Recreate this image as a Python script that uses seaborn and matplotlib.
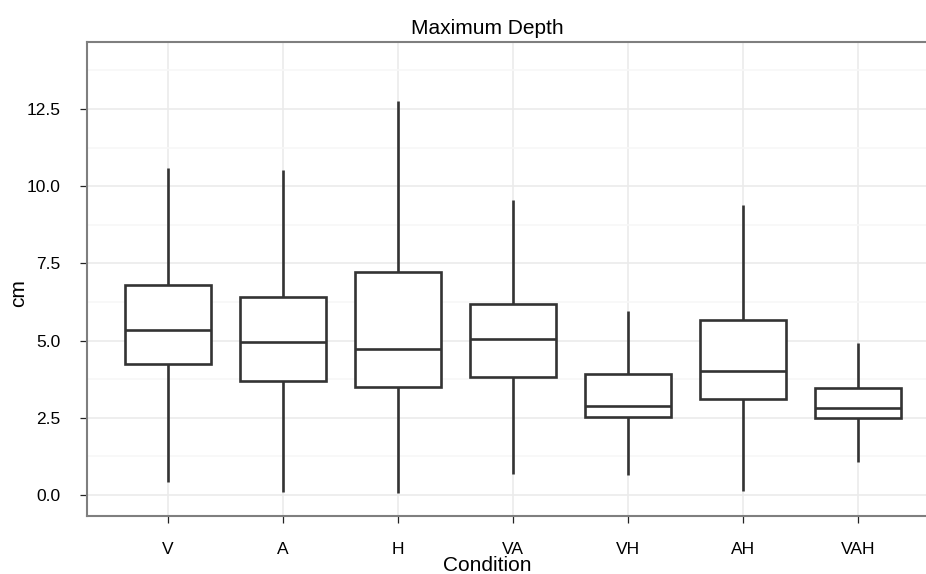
import matplotlib
matplotlib.use("Agg")
import matplotlib.pyplot as plt
import seaborn as sns
import pandas as pd
from matplotlib.ticker import MultipleLocator

conditions = ["V", "A", "H", "VA", "VH", "AH", "VAH"]
whisker_low = [0.42, 0.10, 0.07, 0.68, 0.65, 0.13, 1.07]
q1 = [4.23, 3.69, 3.51, 3.83, 2.54, 3.11, 2.49]
median = [5.33, 4.94, 4.74, 5.06, 2.87, 4.02, 2.81]
q3 = [6.80, 6.42, 7.23, 6.18, 3.91, 5.67, 3.47]
whisker_high = [10.59, 10.52, 12.77, 9.55, 5.97, 9.39, 4.93]

# five summary values per condition -> quartiles land exactly on q1/median/q3
rows = []
for i, c in enumerate(conditions):
    for v in (whisker_low[i], q1[i], median[i], q3[i], whisker_high[i]):
        rows.append({"Condition": c, "cm": v})
df = pd.DataFrame(rows)

sns.set_theme(style="white")
plt.rcParams["font.family"] = ["Liberation Sans", "DejaVu Sans"]

fig = plt.figure(figsize=(9.26, 5.74), dpi=100)
ax = fig.add_axes([0.094, 0.101, 0.906, 0.826])

line_kw = dict(color="#333333", linewidth=1.9)
sns.boxplot(data=df, x="Condition", y="cm", order=conditions, whis=float("inf"),
            width=0.75, color="white", linecolor="#333333", linewidth=1.9,
            boxprops=dict(facecolor="white", edgecolor="#333333", linewidth=1.9),
            medianprops=line_kw, whiskerprops=line_kw, capprops=dict(linewidth=0),
            ax=ax, zorder=3)

ax.set_xlim(-0.704, 6.59)
ax.set_ylim(-0.68, 14.67)
ax.yaxis.set_minor_locator(MultipleLocator(1.25))
ax.set_yticks([0, 2.5, 5, 7.5, 10, 12.5])
ax.set_yticklabels(["0.0", "2.5", "5.0", "7.5", "10.0", "12.5"])

ax.grid(True, which="major", axis="both", color="#ebebeb", linewidth=1.2, zorder=0)
ax.grid(True, which="minor", axis="y", color="#f7f7f7", linewidth=1.2, zorder=0)
ax.set_axisbelow(True)

for side in ["left", "bottom", "top"]:
    ax.spines[side].set_visible(True)
    ax.spines[side].set_color("#7f7f7f")
    ax.spines[side].set_linewidth(1.5)
ax.spines["right"].set_visible(False)

ax.tick_params(axis="both", which="major", direction="out", length=5, width=0.9,
               color="#222222", labelsize=12.5, labelcolor="black", left=True, bottom=True)
ax.tick_params(axis="y", which="minor", length=0)
ax.tick_params(axis="x", pad=14)
ax.tick_params(axis="y", pad=14)

ax.set_title("Maximum Depth", fontsize=15, pad=6, color="black", x=0.477)
ax.set_xlabel("Condition", fontsize=15, labelpad=-1, color="black")
ax.xaxis.label.set_x(0.477)
ax.set_ylabel("cm", fontsize=15, labelpad=-1, color="black")
ax.yaxis.label.set_y(0.47)

fig.savefig("out.png", dpi=100)
